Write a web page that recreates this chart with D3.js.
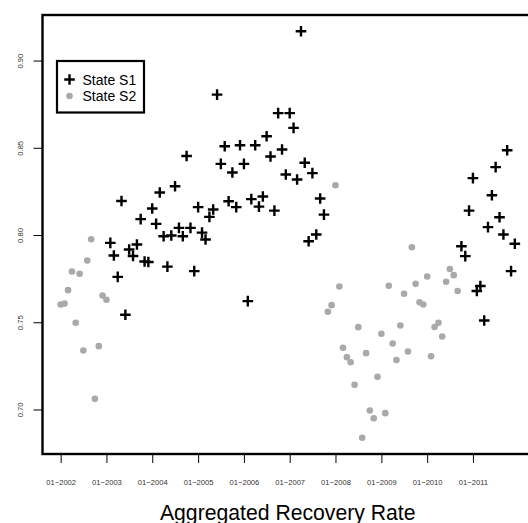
<!DOCTYPE html>
<html>
<head>
<meta charset="utf-8">
<script src="https://cdn.jsdelivr.net/npm/d3@7"></script>
<style>
  html, body { margin: 0; padding: 0; background: #fff; }
  svg { display: block; font-family: "Liberation Sans", Arial, sans-serif; }
</style>
</head>
<body>
<div id="chart"></div>
<script>
// monthly aggregated recovery rate, 01-2002 .. 12-2011 (one row per year)
var firstMonth = "2002-01";
var rate = [
  0.7602, 0.7607, 0.7684, 0.7791, 0.7497, 0.7778, 0.7338, 0.7854, 0.7976, 0.7061, 0.7363, 0.7653,
  0.7629, 0.7955, 0.7883, 0.7760, 0.8195, 0.7543, 0.7917, 0.7880, 0.7946, 0.8091, 0.7848, 0.7845,
  0.8152, 0.8064, 0.8244, 0.7993, 0.7819, 0.7997, 0.8280, 0.8041, 0.7993, 0.8453, 0.8041, 0.7793,
  0.8160, 0.8014, 0.7974, 0.8104, 0.8146, 0.8805, 0.8408, 0.8509, 0.8194, 0.8358, 0.8160, 0.8515,
  0.8408, 0.7621, 0.8206, 0.8515, 0.8163, 0.8221, 0.8566, 0.8450, 0.8140, 0.8699, 0.8490, 0.8347,
  0.8699, 0.8614, 0.8318, 0.9168, 0.8414, 0.7964, 0.8355, 0.8003, 0.8209, 0.8117, 0.7560, 0.7598,
  0.8285, 0.7705, 0.7354, 0.7300, 0.7271, 0.7142, 0.7472, 0.6838, 0.7323, 0.6994, 0.6950, 0.7187,
  0.7434, 0.6979, 0.7709, 0.7378, 0.7283, 0.7481, 0.7663, 0.7332, 0.7930, 0.7720, 0.7615, 0.7602,
  0.7762, 0.7305, 0.7473, 0.7497, 0.7418, 0.7732, 0.7805, 0.7770, 0.7679, 0.7936, 0.7879, 0.8140,
  0.8326, 0.7679, 0.7708, 0.7510, 0.8045, 0.8228, 0.8389, 0.8102, 0.8003, 0.8486, 0.7793, 0.7950
];
// regime of each month: 1 = State S1, 2 = State S2
var state = [
  2, 2, 2, 2, 2, 2, 2, 2, 2, 2, 2, 2,
  2, 1, 1, 1, 1, 1, 1, 1, 1, 1, 1, 1,
  1, 1, 1, 1, 1, 1, 1, 1, 1, 1, 1, 1,
  1, 1, 1, 1, 1, 1, 1, 1, 1, 1, 1, 1,
  1, 1, 1, 1, 1, 1, 1, 1, 1, 1, 1, 1,
  1, 1, 1, 1, 1, 1, 1, 1, 1, 1, 2, 2,
  2, 2, 2, 2, 2, 2, 2, 2, 2, 2, 2, 2,
  2, 2, 2, 2, 2, 2, 2, 2, 2, 2, 2, 2,
  2, 2, 2, 2, 2, 2, 2, 2, 2, 1, 1, 1,
  1, 1, 1, 1, 1, 1, 1, 1, 1, 1, 1, 1
];
var tickYears = [2002, 2003, 2004, 2005, 2006, 2007, 2008, 2009, 2010, 2011];
var yTicks = [0.70, 0.75, 0.80, 0.85, 0.90];
var legendLabels = ["State S1", "State S2"];
var xTitle = "Aggregated Recovery Rate";

var width = 528, height = 523;
var plotLeft = 42.5, plotRight = 533, plotTop = 15, plotBottom = 454;
var grey = "#a9a9a9";

var start = d3.timeParse("%Y-%m")(firstMonth);
var data = rate.map(function(v, i) {
  return { date: d3.timeMonth.offset(start, i), value: v, state: state[i] };
});

// R style 4% padding around the data range
function pad(ext) {
  var d = (ext[1] - ext[0]) * 0.04;
  return [ext[0] - d, ext[1] + d];
}
var xExt = pad(d3.extent(data, function(d) { return +d.date; }));
var x = d3.scaleTime()
  .domain([new Date(xExt[0]), new Date(xExt[1])])
  .range([plotLeft, plotRight]);
var y = d3.scaleLinear()
  .domain(pad(d3.extent(data, function(d) { return d.value; })))
  .range([plotBottom, plotTop]);

var svg = d3.select("#chart").append("svg")
  .attr("width", width)
  .attr("height", height);

// points
var pts = svg.append("g");
pts.selectAll("circle")
  .data(data.filter(function(d) { return d.state == 2; }))
  .enter().append("circle")
  .attr("cx", function(d) { return x(d.date); })
  .attr("cy", function(d) { return y(d.value); })
  .attr("r", 3.3)
  .attr("fill", grey);

var cs = 5.3;
function cross(sel) {
  sel.append("path")
    .attr("d", "M" + (-cs) + ",0H" + cs + "M0," + (-cs) + "V" + cs)
    .attr("stroke", "#000")
    .attr("stroke-width", 2.4)
    .attr("fill", "none");
}
pts.selectAll("g.s1")
  .data(data.filter(function(d) { return d.state == 1; }))
  .enter().append("g")
  .attr("class", "s1")
  .attr("transform", function(d) { return "translate(" + x(d.date) + "," + y(d.value) + ")"; })
  .call(cross);

// box
svg.append("rect")
  .attr("x", plotLeft).attr("y", plotTop)
  .attr("width", plotRight - plotLeft).attr("height", plotBottom - plotTop)
  .attr("fill", "none")
  .attr("stroke", "#000")
  .attr("stroke-width", 2.4);

// x axis
var fmt = d3.timeFormat("%m");
var xAxis = d3.axisBottom(x)
  .tickValues(tickYears.map(function(yr) { return new Date(yr, 0, 1); }))
  .tickSize(9)
  .tickPadding(17)
  .tickFormat(function(d) { return fmt(d) + "\u2212" + d.getFullYear(); });
var gx = svg.append("g")
  .attr("transform", "translate(0," + plotBottom + ")")
  .call(xAxis);
gx.select(".domain").remove();
gx.selectAll(".tick line").attr("stroke", "#000").attr("stroke-width", 1);
gx.selectAll(".tick text")
  .attr("font-size", 7.6)
  .attr("font-family", "Liberation Sans, Arial, sans-serif")
  .attr("fill", "#333");

// y axis
var yAxis = d3.axisLeft(y)
  .tickValues(yTicks)
  .tickSize(9)
  .tickFormat(d3.format(".2f"));
var gy = svg.append("g")
  .attr("transform", "translate(" + plotLeft + ",0)")
  .call(yAxis);
gy.select(".domain").remove();
gy.selectAll(".tick line").attr("stroke", "#000").attr("stroke-width", 1);
gy.selectAll(".tick text")
  .attr("x", null).attr("dy", null)
  .attr("transform", "translate(-20,0) rotate(-90)")
  .attr("text-anchor", "middle")
  .attr("font-size", 7.6)
  .attr("font-family", "Liberation Sans, Arial, sans-serif")
  .attr("fill", "#333");

// title, centred on the plot region
svg.append("text")
  .attr("x", (plotLeft + plotRight) / 2)
  .attr("y", 519.5)
  .attr("text-anchor", "middle")
  .attr("font-size", 21.2)
  .text(xTitle);

// legend
var lg = svg.append("g");
lg.append("rect")
  .attr("x", 57).attr("y", 61)
  .attr("width", 87).attr("height", 51.5)
  .attr("fill", "#fff")
  .attr("stroke", "#000")
  .attr("stroke-width", 2.2);
var rows = lg.selectAll("g.row")
  .data(legendLabels)
  .enter().append("g")
  .attr("class", "row")
  .attr("transform", function(d, i) { return "translate(69.5," + (79.5 + i * 16.5) + ")"; });
rows.filter(function(d, i) { return i == 0; }).call(cross);
rows.filter(function(d, i) { return i == 1; }).append("circle")
  .attr("r", 3.3).attr("fill", grey);
rows.append("text")
  .attr("x", 13)
  .attr("y", 5)
  .attr("font-size", 14)
  .text(function(d) { return d; });
</script>
</body>
</html>
